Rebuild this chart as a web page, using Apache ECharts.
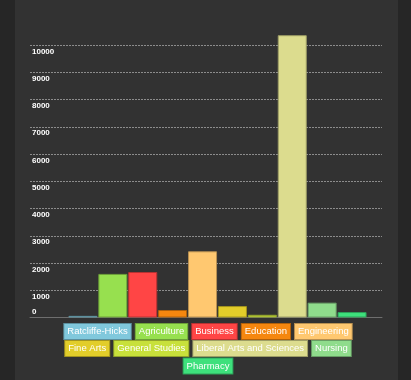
<!DOCTYPE html>
<html>
<head>
<meta charset="utf-8">
<script src="https://cdn.jsdelivr.net/npm/echarts@6/dist/echarts.min.js"></script>
<style>
html,body{margin:0;padding:0;background:#262626;}
#chart{width:411px;height:380px;}
</style>
</head>
<body>
<div id="chart"></div>
<script>
var categories = ['Ratcliffe-Hicks','Agriculture','Business','Education','Engineering','Fine Arts','General Studies','Liberal Arts and Sciences','Nursing','Pharmacy'];
var enrollment = [60, 1600, 1670, 275, 2430, 420, 100, 10360, 545, 200];
var colors = ['#80c8dc','#97e04f','#ff4545','#f5870f','#ffc870','#e2cd2a','#c8e03b','#dcdc8e','#8fdc8c','#3ee07c'];
var yTicks = [0,1000,2000,3000,4000,5000,6000,7000,8000,9000,10000];
var legendRows = [[0,1,2,3,4],[5,6,7,8],[9]];

function darken(hex, f){
  var n = parseInt(hex.slice(1),16);
  var r = Math.round(((n>>16)&255)*f), g = Math.round(((n>>8)&255)*f), b = Math.round((n&255)*f);
  return 'rgb('+r+','+g+','+b+')';
}

var chart = echarts.init(document.getElementById('chart'), null, {renderer:'canvas'});

var series = categories.map(function(name, i){
  return {
    name: name,
    type: 'bar',
    xAxisIndex: 1,
    yAxisIndex: 1,
    stack: 'total',
    barCategoryGap: '3%',
    itemStyle: {color: colors[i], borderColor: darken(colors[i], 0.72), borderWidth: 1},
    emphasis: {disabled: true},
    data: enrollment.map(function(v, j){ return j === i ? v : '-'; })
  };
});

var legendTops = [323, 340, 357.5];
var legends = legendRows.map(function(row, r){
  return {
    top: legendTops[r],
    left: 'center',
    width: 411,
    padding: 0,
    orient: 'horizontal',
    selectedMode: false,
    icon: 'rect',
    itemWidth: 0,
    itemHeight: 0,
    itemGap: -2,
    textStyle: {
      color: '#ffffff',
      fontFamily: 'Liberation Sans, Arial, sans-serif',
      fontSize: 9.5,
      lineHeight: 11,
      padding: [2,3,2,3]
    },
    data: row.map(function(i){
      return {
        name: categories[i],
        textStyle: {
          color: '#ffffff',
          backgroundColor: colors[i],
          borderColor: darken(colors[i], 0.72),
          borderWidth: 1,
          padding: [2,3,2,3]
        }
      };
    })
  };
});

var option = {
  backgroundColor: '#262626',
  animation: false,
  graphic: [{
    type: 'rect', z: -10, silent: true,
    shape: {x: 15, y: 0, width: 383, height: 380},
    style: {fill: '#323232'}
  }],
  legend: legends,
  grid: [
    {left: 30, right: 29, top: 17.75, bottom: 62.5},
    {left: 68, right: 44, top: 17.75, bottom: 62.5}
  ],
  xAxis: [
    {gridIndex: 0, type: 'category', data: categories, axisLine: {show: true, lineStyle: {color: '#6e6e6e', width: 1}}, axisTick: {show: false}, axisLabel: {show: false}, splitLine: {show: false}},
    {gridIndex: 1, type: 'category', data: categories, axisLine: {show: false}, axisTick: {show: false}, axisLabel: {show: false}}
  ],
  yAxis: [
    {
      gridIndex: 0, type: 'value', min: 0, max: 11000, interval: 1000,
      axisLine: {show: false}, axisTick: {show: false},
      splitLine: {show: true, showMinLine: false, showMaxLine: false, lineStyle: {color: '#8c8c8c', type: [2,1], width: 1}},
      axisLabel: {
        inside: true, margin: 2, align: 'left', verticalAlign: 'middle',
        showMaxLabel: false,
        formatter: function(v){
          if (yTicks.indexOf(v) < 0) return '';
          return v === 0 ? '{z|' + v + '}' : '{n|' + v + '}';
        },
        rich: {
          n: {color: '#ffffff', fontSize: 8, fontWeight: 'bold', fontFamily: 'Liberation Sans, sans-serif', padding: [13,0,0,0]},
          z: {color: '#ffffff', fontSize: 8, fontWeight: 'bold', fontFamily: 'Liberation Sans, sans-serif', padding: [0,0,12,0]}
        }
      }
    },
    {gridIndex: 1, type: 'value', min: 0, max: 11000, interval: 1000, show: false, splitLine: {show: false}}
  ],
  series: series
};
chart.setOption(option);
</script>
</body>
</html>
